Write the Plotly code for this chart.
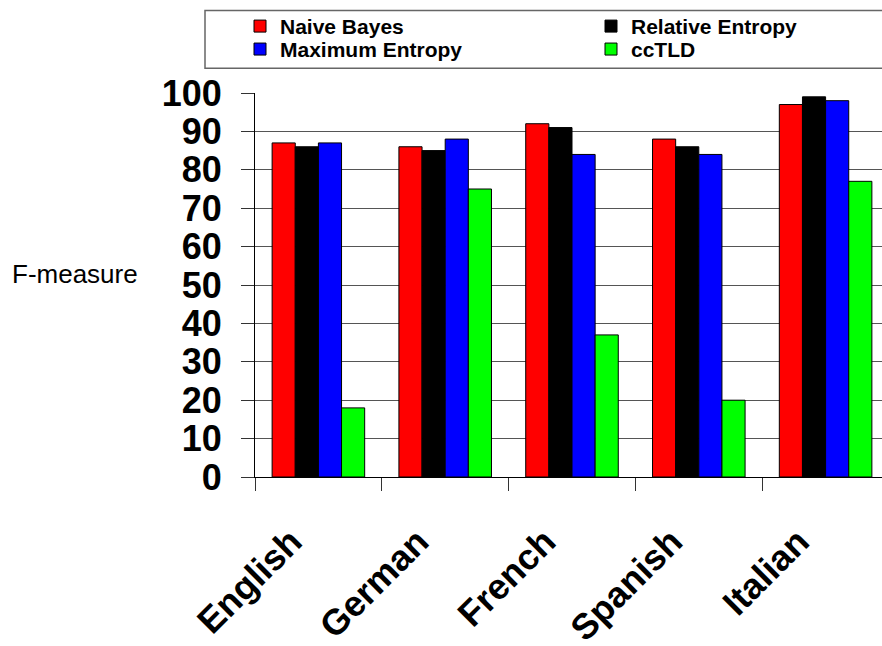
import plotly.graph_objects as go

# Data
languages = ["English", "German", "French", "Spanish", "Italian"]
naive_bayes = [87, 86, 92, 88, 97]
relative_entropy = [86, 85, 91, 86, 99]
maximum_entropy = [87, 88, 84, 84, 98]
cctld = [18, 75, 37, 20, 77]
y_ticks = list(range(0, 101, 10))

# Canvas geometry (pixels)
W, H = 882, 646
L, R, T, B = 255, 0, 92.7, 646 - 477.3
PW = W - L - R
PH = H - T - B
CAT_PX = 126.8  # pixel width of one category slot
X_RANGE = [-0.5, -0.5 + PW / CAT_PX]


def px_x(px):
    return (px - L) / PW


def px_y(py):
    return (H - B - py) / PH


FONT = "Arial, 'Liberation Sans', sans-serif"

series = [
    ("Naive Bayes", naive_bayes, "#FF0000", "legend"),
    ("Relative Entropy", relative_entropy, "#000000", "legend"),
    ("Maximum Entropy", maximum_entropy, "#0000FF", "legend2"),
    ("ccTLD", cctld, "#00FF00", "legend2"),
]

fig = go.Figure()
for name, vals, color, leg in series:
    fig.add_trace(
        go.Bar(
            name=name,
            x=languages,
            y=vals,
            marker=dict(color=color, line=dict(color="#000000", width=1)),
            legend=leg,
        )
    )

# Empty trace that anchors the label axis overlaying the category axis
fig.add_trace(
    go.Scatter(x=[], y=[], xaxis="x2", showlegend=False, hoverinfo="skip")
)

legend_common = dict(
    orientation="h",
    xanchor="left",
    yanchor="top",
    entrywidth=306,
    entrywidthmode="pixels",
    bgcolor="rgba(0,0,0,0)",
    borderwidth=0,
    font=dict(family=FONT, size=21, color="#000000", weight="bold"),
    itemclick=False,
)

# Category labels sit a little down-left of each slot centre
label_shift = 27 / CAT_PX
label_pos = [i - label_shift for i in range(len(languages))]

fig.update_layout(
    width=W,
    height=H,
    margin=dict(l=L, r=R, t=T, b=B, autoexpand=False),
    paper_bgcolor="white",
    plot_bgcolor="white",
    barmode="group",
    bargap=0.27,
    bargroupgap=0,
    showlegend=True,
    legend=dict(x=px_x(240), y=px_y(5.5), **legend_common),
    legend2=dict(x=px_x(240), y=px_y(28.5), **legend_common),
    xaxis=dict(
        type="category",
        range=X_RANGE,
        showline=True,
        linecolor="#000000",
        linewidth=1,
        ticks="outside",
        tickson="boundaries",
        ticklen=13,
        tickcolor="#333333",
        showticklabels=False,
        showgrid=False,
    ),
    xaxis2=dict(
        overlaying="x",
        anchor="y",
        side="bottom",
        range=X_RANGE,
        tickmode="array",
        tickvals=label_pos,
        ticktext=languages,
        ticks="outside",
        ticklen=13,
        tickcolor="rgba(0,0,0,0)",
        ticklabelstandoff=15,
        tickangle=-45,
        tickfont=dict(family=FONT, size=36, color="#000000", weight="bold"),
        showline=False,
        showgrid=False,
        zeroline=False,
    ),
    yaxis=dict(
        range=[0, 100],
        tickvals=y_ticks,
        showgrid=True,
        gridcolor="#555555",
        gridwidth=1,
        zeroline=False,
        showline=True,
        linecolor="#000000",
        linewidth=1,
        ticks="outside",
        ticklen=13,
        tickcolor="#333333",
        ticklabelstandoff=12,
        tickfont=dict(family=FONT, size=36, color="#000000", weight="bold"),
    ),
    shapes=[
        dict(
            type="rect",
            xref="paper",
            yref="paper",
            x0=px_x(205),
            x1=px_x(905),
            y0=px_y(68),
            y1=px_y(10),
            line=dict(color="#666666", width=1.5),
            fillcolor="rgba(0,0,0,0)",
        )
    ],
    annotations=[
        dict(
            text="F-measure",
            xref="paper",
            yref="paper",
            x=px_x(10),
            y=px_y(274),
            xanchor="left",
            yanchor="middle",
            showarrow=False,
            font=dict(family=FONT, size=26, color="#000000"),
        )
    ],
)

fig.write_html("out.html")
